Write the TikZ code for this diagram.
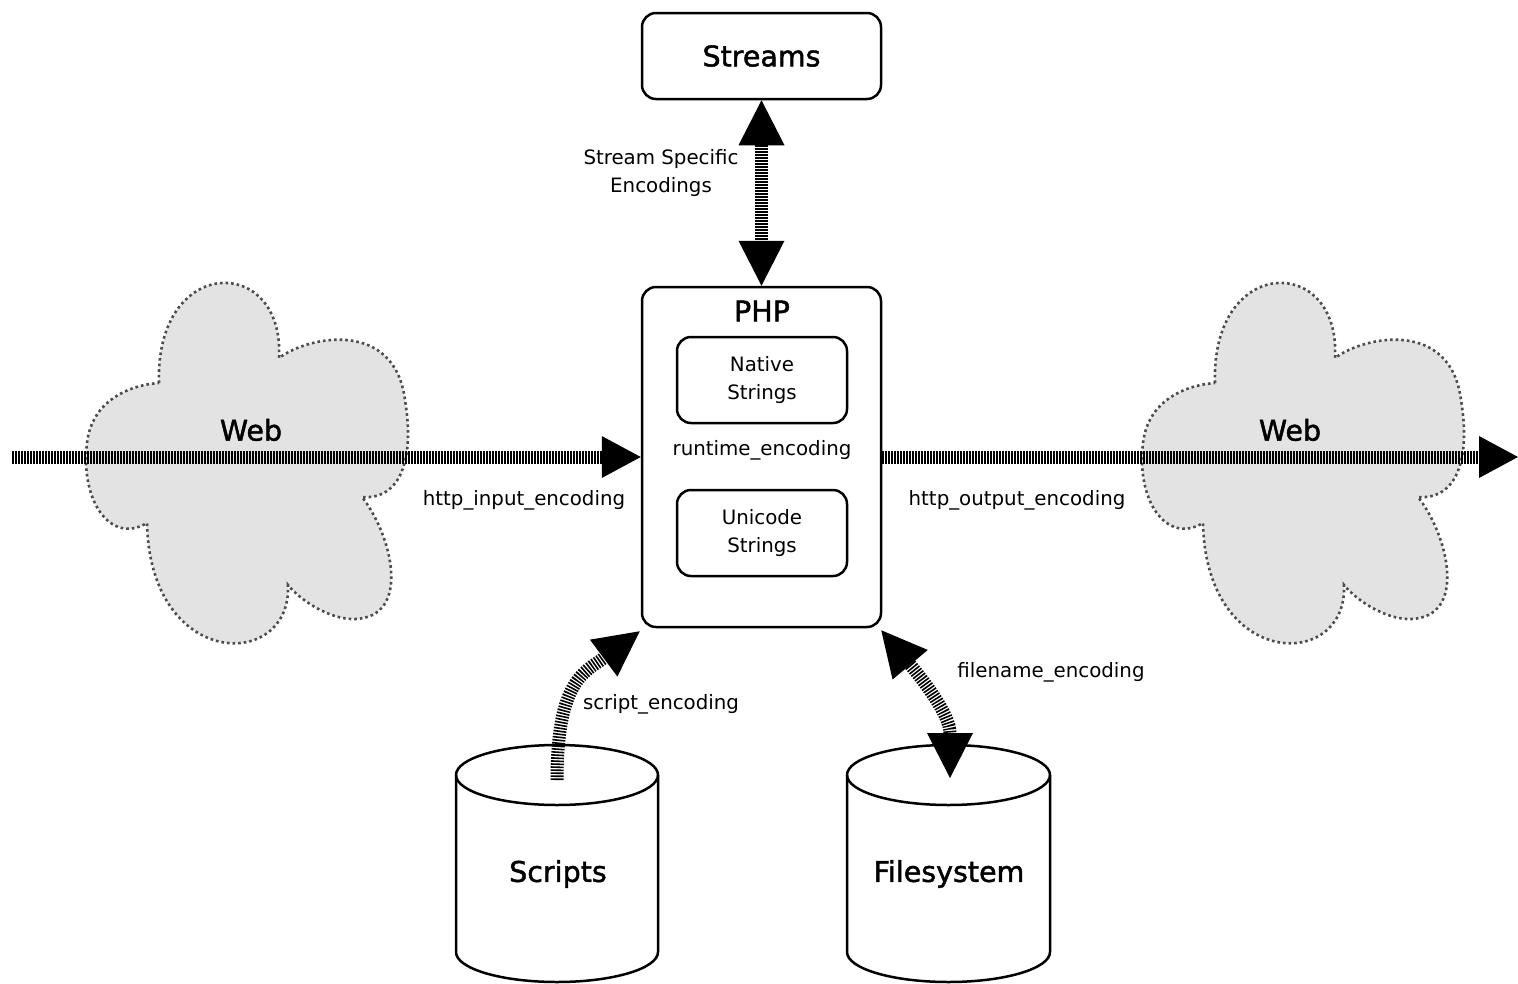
\documentclass[tikz,border=0pt]{standalone}
\usepackage{fontspec}
\setmainfont{DejaVu Sans}
\newfontfamily\titlefont[FakeBold=1.6]{DejaVu Sans}
\usetikzlibrary{arrows.meta}
\tikzset{
  box/.style={draw, line width=2.5pt, rounded corners=14pt, fill=white},
  lbl/.style={font=\fontsize{19.8}{27.5}\selectfont, align=center, inner sep=0pt},
  ttl/.style={font=\titlefont\fontsize{28.5}{32}\selectfont, inner sep=0pt},
  bigtip/.tip={Triangle[length=45pt,width=46pt,line width=0pt]},
  htip/.tip={Triangle[length=39pt,width=42pt,line width=0pt]},
  flow/.style={line width=13pt, dash pattern=on 1.6pt off 1.4pt},
  cloudline/.style={fill=black!11, draw=black!70, line width=2.6pt, dash pattern=on 2.6pt off 3pt},
  cylline/.style={draw, line width=2.5pt, fill=white},
  cloud/.pic={
    \path[cloudline] (159,383) .. controls (155,254) and (285,254) .. (279,358)
      .. controls (310,335) and (395,320) .. (405,400)
      .. controls (415,460) and (400,500) .. (362,497)
      .. controls (392,535) and (412,617) .. (355,619)
      .. controls (330,620) and (300,600) .. (288,585)
      .. controls (292,671) and (150,671) .. (147,523)
      .. controls (110,545) and (80,500) .. (87,443)
      .. controls (92,400) and (130,385) .. (159,383) -- cycle;
  }
}
\begin{document}
\begin{tikzpicture}[x=1pt,y=-1pt]
\useasboundingbox (0,0) rectangle (1518,983);
% clouds
\pic at (0,0) {cloud};
\pic at (1056,0) {cloud};
\node[ttl] (web1) at (251,430) {Web};
\node[ttl] (web2) at (1290,430) {Web};
% boxes
\node[box, minimum width=239pt, minimum height=86pt] (streams) at (761.5,56) {};
\node[ttl] at (streams) {Streams};
\node[box, minimum width=239pt, minimum height=340pt] (php) at (761.5,457) {};
\node[ttl] (phpt) at (762,311) {PHP};
\node[box, minimum width=170pt, minimum height=86pt] (native) at (762,380) {};
\node[lbl] at (native) {Native\\Strings};
\node[box, minimum width=170pt, minimum height=86pt] (unicode) at (762,533) {};
\node[lbl] at (unicode) {Unicode\\Strings};
\node[lbl] (rt) at (762,450) {runtime\_encoding};
% cylinders
\draw[cylline] (456,775) -- (456,952) arc[start angle=180,end angle=360,x radius=101pt,y radius=30pt]
  -- (658,775) arc[start angle=0,end angle=180,x radius=101pt,y radius=30pt] -- cycle;
\draw[line width=2.5pt] (456,775) arc[start angle=180,end angle=360,x radius=101pt,y radius=30pt];
\node[ttl] (scripts) at (558,874) {Scripts};
\draw[cylline] (847,775) -- (847,952) arc[start angle=180,end angle=360,x radius=101.5pt,y radius=30pt]
  -- (1050,775) arc[start angle=0,end angle=180,x radius=101.5pt,y radius=30pt] -- cycle;
\draw[line width=2.5pt] (847,775) arc[start angle=180,end angle=360,x radius=101.5pt,y radius=30pt];
\node[ttl] (fs) at (949,874) {Filesystem};
\coordinate (scrtop) at (557,780);
\coordinate (fstop) at (950,778);
\coordinate (inL) at (12,457);
\coordinate (outR) at (1518,457);
% connectors
\draw[flow, -htip] (inL) -- (php.west);
\draw[flow, -htip] (php.east) -- (outR);
\draw[flow, bigtip-bigtip] (streams.south) -- (php.north);
\draw[flow, -bigtip] (scrtop) .. controls (557,680) and (585,672) .. ([xshift=-1pt,yshift=-3pt]php.south west);
\draw[flow, bigtip-bigtip] ([xshift=-1pt,yshift=-2pt]php.south east) to[out=-50, in=90] (fstop);
% labels
\node[lbl] (sse) at (661,173) {Stream Specific\\Encodings};
\node[lbl] (hin) at (524,500) {http\_input\_encoding};
\node[lbl] (hout) at (1017,500) {http\_output\_encoding};
\node[lbl] (se) at (661,704) {script\_encoding};
\node[lbl] (fe) at (1051,672) {filename\_encoding};
\end{tikzpicture}
\end{document}
